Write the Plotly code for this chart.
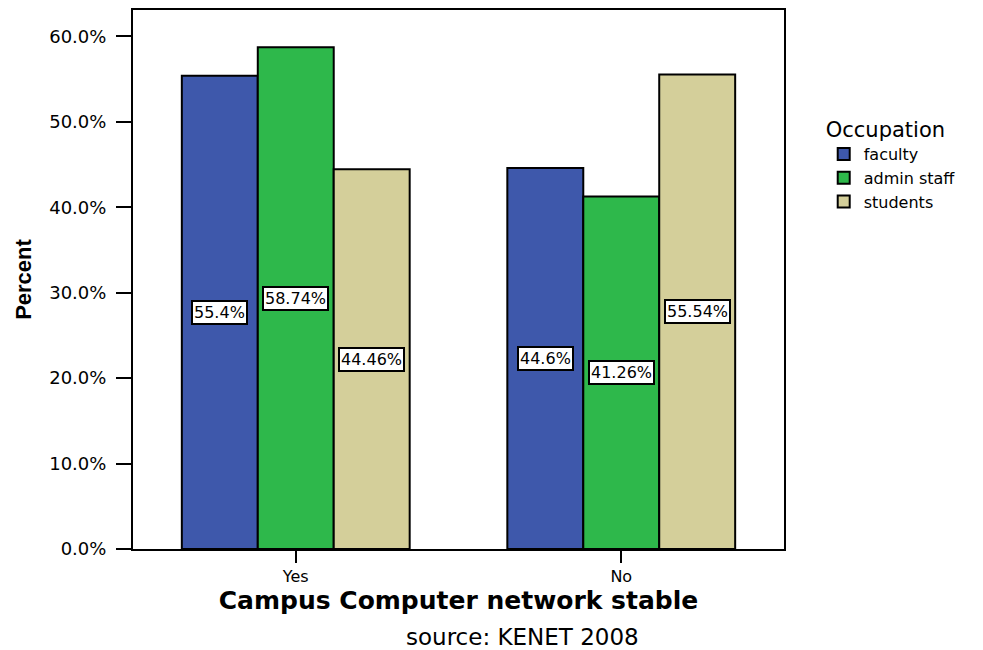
import plotly.graph_objects as go

categories = ["Yes", "No"]
series_names = ["faculty", "admin staff", "students"]
faculty = [55.4, 44.6]
admin_staff = [58.74, 41.26]
students = [44.46, 55.54]
label_text = [["55.4%", "44.6%"], ["58.74%", "41.26%"], ["44.46%", "55.54%"]]
colors = ["#3E58AB", "#2EB84B", "#D4CF9A"]
y_ticks = [0, 10, 20, 30, 40, 50, 60]
y_tick_labels = ["0.0%", "10.0%", "20.0%", "30.0%", "40.0%", "50.0%", "60.0%"]

values = [faculty, admin_staff, students]
fig = go.Figure()
for name, vals, col in zip(series_names, values, colors):
    fig.add_trace(go.Bar(x=categories, y=vals, name=name,
                         marker=dict(color=col, line=dict(color="black", width=2))))

bargap = 0.3
bw = (1 - bargap) / 3
for si, vals in enumerate(values):
    for ci, v in enumerate(vals):
        fig.add_annotation(x=ci + (si - 1) * bw, y=v / 2, text=label_text[si][ci],
                           showarrow=False, bgcolor="white", bordercolor="black",
                           borderwidth=2, borderpad=1,
                           font=dict(family="DejaVu Sans", size=16, color="black"))

fig.add_annotation(x=0.599, xref="paper", y=-0.163, yref="paper", yanchor="middle",
                   text="source: KENET 2008", showarrow=False,
                   font=dict(family="DejaVu Sans", size=23, color="black"))

fig.update_layout(
    width=975, height=642,
    margin=dict(l=125, r=199, t=0, b=101),
    paper_bgcolor="white", plot_bgcolor="white",
    barmode="group", bargap=bargap, bargroupgap=0,
    font=dict(family="DejaVu Sans", color="black"),
    legend=dict(title=dict(text="Occupation", font=dict(size=21)),
                x=1.061, xanchor="left", y=0.815, yanchor="top",
                font=dict(size=16), tracegroupgap=0, itemsizing="constant"),
    xaxis=dict(range=[-0.5, 1.5], showline=True, linecolor="black", linewidth=2,
               mirror=True, ticks="outside", ticklen=12, tickwidth=2, tickcolor="black",
               tickfont=dict(size=16),
               title=dict(text="<b>Campus Computer network stable</b>",
                          font=dict(size=25, family="DejaVu Sans"), standoff=0)),
    yaxis=dict(range=[0, 63.1], tickvals=y_ticks, ticktext=y_tick_labels,
               showline=True, linecolor="black", linewidth=2, mirror=True,
               ticks="outside", ticklen=15, tickwidth=2, tickcolor="black",
               ticklabelstandoff=6,
               tickfont=dict(size=18), showgrid=False, zeroline=False,
               title=dict(text="<b>Percent</b>",
                          font=dict(size=22, family="Liberation Sans Narrow, Liberation Sans"),
                          standoff=12)),
)

fig.write_html("out.html")
